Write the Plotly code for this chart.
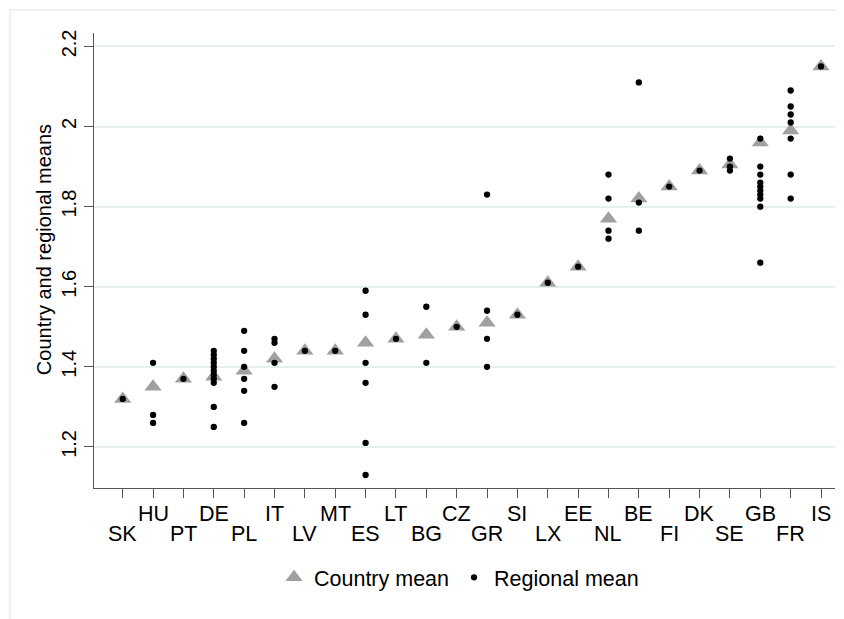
import plotly.graph_objects as go

countries = ["SK", "HU", "PT", "DE", "PL", "IT", "LV", "MT", "ES", "LT", "BG", "CZ",
             "GR", "SI", "LX", "EE", "NL", "BE", "FI", "DK", "SE", "GB", "FR", "IS"]
country_mean = [1.32, 1.35, 1.37, 1.375, 1.39, 1.42, 1.44, 1.44, 1.46, 1.47, 1.48, 1.50,
                1.51, 1.53, 1.61, 1.65, 1.77, 1.82, 1.85, 1.89, 1.905, 1.96, 1.99, 2.15]

region_country = (["SK"] + ["HU"] * 3 + ["PT"] + ["DE"] * 11 + ["PL"] * 6 + ["IT"] * 4
                  + ["LV"] + ["MT"] + ["ES"] * 6 + ["LT"] + ["BG"] * 2 + ["CZ"]
                  + ["GR"] * 4 + ["SI"] + ["LX"] + ["EE"] + ["NL"] * 4 + ["BE"] * 3
                  + ["FI"] + ["DK"] + ["SE"] * 3 + ["GB"] * 10 + ["FR"] * 7 + ["IS"])
region_value = ([1.32]
                + [1.41, 1.28, 1.26]
                + [1.37]
                + [1.44, 1.43, 1.42, 1.41, 1.40, 1.39, 1.38, 1.37, 1.36, 1.30, 1.25]
                + [1.49, 1.44, 1.40, 1.37, 1.34, 1.26]
                + [1.47, 1.46, 1.41, 1.35]
                + [1.44]
                + [1.44]
                + [1.59, 1.53, 1.41, 1.36, 1.21, 1.13]
                + [1.47]
                + [1.55, 1.41]
                + [1.50]
                + [1.83, 1.54, 1.47, 1.40]
                + [1.53]
                + [1.61]
                + [1.65]
                + [1.88, 1.82, 1.74, 1.72]
                + [2.11, 1.81, 1.74]
                + [1.85]
                + [1.89]
                + [1.92, 1.90, 1.89]
                + [1.97, 1.90, 1.88, 1.86, 1.85, 1.84, 1.83, 1.82, 1.80, 1.66]
                + [2.09, 2.05, 2.03, 2.01, 1.97, 1.88, 1.82]
                + [2.15])

y_ticks = [1.2, 1.4, 1.6, 1.8, 2.0, 2.2]
y_ticktext = ["1.2", "1.4", "1.6", "1.8", "2", "2.2"]
y_title = "Country and regional means"

idx = {c: i for i, c in enumerate(countries)}
x_country = list(range(len(countries)))
x_region = [idx[c] for c in region_country]

FONT = "Liberation Sans, Arial, sans-serif"
OFF = 8  # page body margin
W, H = 844 - OFF, 619 - OFF
# plot area in screen pixels: left 94, right 835, top 33, bottom 487.7
ML = 94 - OFF
MT = 33 - OFF
MR = W - (835 - OFF)
MB = H - (487.7 - OFF)
PH = H - MT - MB
PW = W - ML - MR


def py(px):
    return (H - MB - (px - OFF)) / PH


def pxx(px):
    return (px - OFF - ML) / PW


fig = go.Figure()
fig.add_trace(go.Scatter(
    x=x_country, y=country_mean, mode="markers", name="Country mean",
    marker=dict(symbol="triangle-up", size=15, color="#A0A0A0", line=dict(width=0)),
))
fig.add_trace(go.Scatter(
    x=x_region, y=region_value, mode="markers", name="Regional mean",
    marker=dict(symbol="circle", size=6.3, color="#000000", line=dict(width=0)),
))

annotations = []
for i, c in enumerate(countries):
    annotations.append(dict(
        x=i, xref="x", y=py(500) if i % 2 == 1 else py(520), yref="paper",
        text=c, showarrow=False, xanchor="center", yanchor="top",
        font=dict(family=FONT, size=21.5, color="#000000"),
    ))
annotations.append(dict(
    x=pxx(44), xref="paper", y=py(250), yref="paper", text=y_title,
    textangle=-90, showarrow=False, xanchor="center", yanchor="middle",
    font=dict(family=FONT, size=20, color="#000000"),
))

fig.update_layout(
    width=W, height=H,
    margin=dict(l=ML, r=MR, t=MT, b=MB, autoexpand=False),
    paper_bgcolor="white", plot_bgcolor="white",
    font=dict(family=FONT, size=20, color="#000000"),
    showlegend=True,
    legend=dict(orientation="h", x=pxx(459), xanchor="center", y=py(577), yanchor="middle",
                font=dict(size=21.5), itemwidth=30, bgcolor="rgba(0,0,0,0)"),
    xaxis=dict(
        range=[-0.945, 23.46], tickmode="array", tickvals=x_country,
        showticklabels=False, automargin=False,
        showgrid=False, zeroline=False, showline=True, linecolor="#555555", linewidth=1,
        ticks="outside", ticklen=9, tickcolor="#555555", tickwidth=1,
    ),
    yaxis=dict(
        range=[1.0975, 2.2335], tickmode="array", tickvals=y_ticks, ticktext=y_ticktext,
        automargin=False,
        showgrid=True, gridcolor="#E6EEF0", gridwidth=1.5, zeroline=False,
        showline=True, linecolor="#555555", linewidth=1,
        ticks="outside", ticklen=9, tickcolor="#555555", tickwidth=1,
        tickfont=dict(size=20), tickangle=-90,
    ),
    annotations=annotations,
    shapes=[dict(type="rect", xref="paper", yref="paper",
                 x0=pxx(10), x1=pxx(844 + 300), y0=py(619 + 30), y1=py(10),
                 line=dict(color="#E6EEF0", width=1.5), layer="below")],
)

fig.write_html("out.html")
